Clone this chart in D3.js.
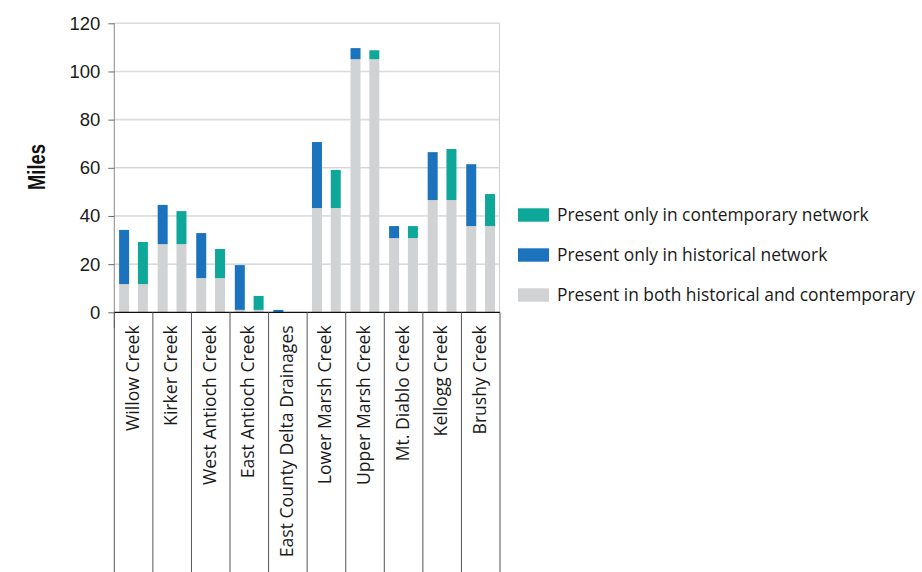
<!DOCTYPE html>
<html>
<head>
<meta charset="utf-8">
<script src="https://cdn.jsdelivr.net/npm/d3@7"></script>
<style>
  body { margin: 0; background: #fff; }
  svg { display: block; }
</style>
</head>
<body>
<div id="chart"></div>
<script>
const categories = [
  "Willow Creek", "Kirker Creek", "West Antioch Creek", "East Antioch Creek",
  "East County Delta Drainages", "Lower Marsh Creek", "Upper Marsh Creek",
  "Mt. Diablo Creek", "Kellogg Creek", "Brushy Creek",
];
const sharedMiles = [11.7, 28.3, 14.2, 1.0, 0, 43.3, 105.1, 30.8, 46.6, 35.8];
const historicalOnly = [22.5, 16.3, 18.7, 18.6, 1.0, 27.4, 4.6, 5.0, 19.9, 25.7];
const contemporaryOnly = [17.5, 13.7, 12.1, 5.8, 0, 15.8, 3.7, 5.0, 21.2, 13.3];
const yTicks = [0, 20, 40, 60, 80, 100, 120];
const legendLabels = [
  "Present only in contemporary network",
  "Present only in historical network",
  "Present in both historical and contemporary",
];

const colors = { shared: "#d1d2d4", historical: "#1c73bd", contemporary: "#0ea89b" };

const width = 922;
const height = 572;
const plot = { left: 114.3, right: 500, top: 23.3, bottom: 312.3 };

const svg = d3
  .select("#chart")
  .append("svg")
  .attr("width", width)
  .attr("height", height);

const x = d3.scaleBand().domain(categories).range([plot.left, plot.right]).padding(0);
const y = d3.scaleLinear().domain([0, 120]).range([plot.bottom, plot.top]);

// gridlines
svg
  .append("g")
  .selectAll("line")
  .data(yTicks.filter((t) => t > 0))
  .join("line")
  .attr("x1", plot.left)
  .attr("x2", plot.right)
  .attr("y1", (d) => y(d))
  .attr("y2", (d) => y(d))
  .attr("stroke", (d) => (d >= 80 ? "#dcdcdc" : "#c4c4c4"))
  .attr("stroke-width", (d) => (d >= 80 ? 1.6 : 1));

// right border of plot
svg
  .append("line")
  .attr("x1", plot.right - 0.5)
  .attr("x2", plot.right - 0.5)
  .attr("y1", plot.top)
  .attr("y2", plot.bottom)
  .attr("stroke", "#d0d0d0")
  .attr("stroke-width", 1);

// bars
const rows = categories.map((c, i) => ({
  name: c,
  shared: sharedMiles[i],
  hist: historicalOnly[i],
  cont: contemporaryOnly[i],
}));

const barW = 10;
const offsetHist = 4.8;
const offsetCont = 23.6;

const barG = svg.append("g");
rows.forEach((r) => {
  const x0 = x(r.name);
  const stacks = [
    { x: x0 + offsetHist, lo: 0, hi: r.shared, color: colors.shared },
    { x: x0 + offsetHist, lo: r.shared, hi: r.shared + r.hist, color: colors.historical },
    { x: x0 + offsetCont, lo: 0, hi: r.shared, color: colors.shared },
    { x: x0 + offsetCont, lo: r.shared, hi: r.shared + r.cont, color: colors.contemporary },
  ];
  barG
    .selectAll(null)
    .data(stacks.filter((s) => s.hi > s.lo))
    .join("rect")
    .attr("x", (d) => d.x)
    .attr("width", barW)
    .attr("y", (d) => y(d.hi))
    .attr("height", (d) => y(d.lo) - y(d.hi))
    .attr("fill", (d) => d.color);
});

// y axis
const yAxis = svg
  .append("g")
  .attr("transform", `translate(${plot.left},0)`)
  .call(d3.axisLeft(y).tickValues(yTicks).tickSize(6).tickPadding(8));
yAxis.select(".domain").attr("stroke", "#8a8a8a").attr("d", `M0,${plot.top}V${plot.bottom + 16}`);
yAxis.selectAll(".tick line").attr("stroke", "#6a6a6a");
yAxis
  .selectAll(".tick text")
  .attr("font-family", "Liberation Sans, Arial, sans-serif")
  .attr("font-size", 18.5)
  .attr("fill", "#1a1a1a");

// x axis baseline
svg
  .append("line")
  .attr("x1", plot.left)
  .attr("x2", plot.right)
  .attr("y1", plot.bottom)
  .attr("y2", plot.bottom)
  .attr("stroke", "#111")
  .attr("stroke-width", 1.3);

// category separators
const seps = categories.map((c) => x(c)).concat([plot.right]);
svg
  .append("g")
  .selectAll("line")
  .data(seps)
  .join("line")
  .attr("x1", (d) => d)
  .attr("x2", (d) => d)
  .attr("y1", plot.bottom)
  .attr("y2", height)
  .attr("stroke", "#555")
  .attr("stroke-width", 1);

// category labels
svg
  .append("g")
  .selectAll("text")
  .data(categories)
  .join("text")
  .attr("transform", (d) => `translate(${x(d) + x.bandwidth() / 2 + 5},${plot.bottom + 13}) rotate(-90)`)
  .attr("text-anchor", "end")
  .attr("font-family", "Open Sans, sans-serif")
  .attr("font-size", 17.6)
  .attr("fill", "#1a1a1a")
  .text((d) => d);

// y axis title
svg
  .append("text")
  .attr("transform", `translate(45,167) rotate(-90) scale(0.8,1)`)
  .attr("text-anchor", "middle")
  .attr("font-family", "Liberation Sans, Arial, sans-serif")
  .attr("font-weight", "bold")
  .attr("font-size", 23)
  .attr("fill", "#111")
  .text("Miles");

// legend
const legendColors = [colors.contemporary, colors.historical, colors.shared];
const legend = svg
  .append("g")
  .selectAll("g")
  .data(legendLabels)
  .join("g")
  .attr("transform", (d, i) => `translate(518,${208.3 + i * 40})`);
legend
  .append("rect")
  .attr("width", 31)
  .attr("height", 13.4)
  .attr("fill", (d, i) => legendColors[i]);
legend
  .append("text")
  .attr("x", 39)
  .attr("y", 13)
  .attr("font-family", "Open Sans, sans-serif")
  .attr("font-size", 17.4)
  .attr("fill", "#1a1a1a")
  .text((d) => d);
</script>
</body>
</html>
